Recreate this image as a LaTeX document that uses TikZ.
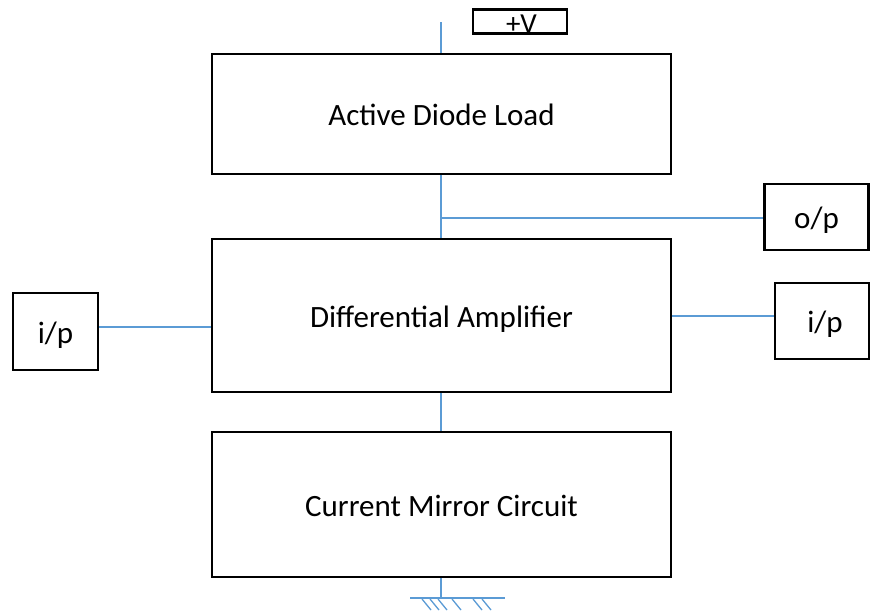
\documentclass[tikz,border=0pt]{standalone}
\usepackage{fontspec}
\setmainfont{Carlito}
\begin{document}
\begin{tikzpicture}[x=1pt,y=-1pt,
  blk/.style={draw=black,line width=2.7pt,rectangle,inner sep=0pt,font=\fontsize{31}{36}\selectfont,text height=23pt,text depth=0pt},
  wire/.style={draw={rgb,255:red,91;green,155;blue,213},line width=1.8pt}]
\useasboundingbox (0,0) rectangle (870,614);
\node[blk,minimum width=459,minimum height=120] (adl) at (441.5,114) {Active Diode Load};
\node[blk,minimum width=459,minimum height=153] (da) at (441.5,315.5) {Differential Amplifier};
\node[blk,minimum width=459,minimum height=145] (cm) at (441.5,504.5) {Current Mirror Circuit};
\node[blk,minimum width=94,minimum height=24] (pv) at (520,21.5) {};
\node[font=\fontsize{29}{34}\selectfont,anchor=base,inner sep=0pt] (pvt) at (521.5,33) {+V};
\node[blk,minimum width=104,minimum height=66] (op) at (816.5,217) {o/p};
\node[blk,minimum width=94,minimum height=76] (ipr) at (822,321) {\hspace*{6pt}i/p};
\node[blk,minimum width=85,minimum height=77] (ipl) at (55.5,331.5) {i/p};
\coordinate (vtop) at (441,22);
\coordinate (tee) at (441,218);
\coordinate (gnd) at (441,598);
\draw[wire] (vtop) -- (adl.north -| vtop);
\draw[wire] (adl.south -| vtop) -- (da.north -| vtop);
\draw[wire] (tee) -- (op.west |- tee);
\draw[wire] (da.east |- 0,316) -- (ipr.west |- 0,316);
\draw[wire] (ipl.east |- 0,327) -- (da.west |- 0,327);
\draw[wire] (da.south -| vtop) -- (cm.north -| vtop);
\draw[wire] (cm.south -| vtop) -- (gnd);
\draw[wire] (410,598) -- (505,598);
\foreach \x in {422,430,438,452,473,482}
  \draw[wire,line width=1.3pt] (\x,599) -- (\x+9,610);
\end{tikzpicture}
\end{document}
